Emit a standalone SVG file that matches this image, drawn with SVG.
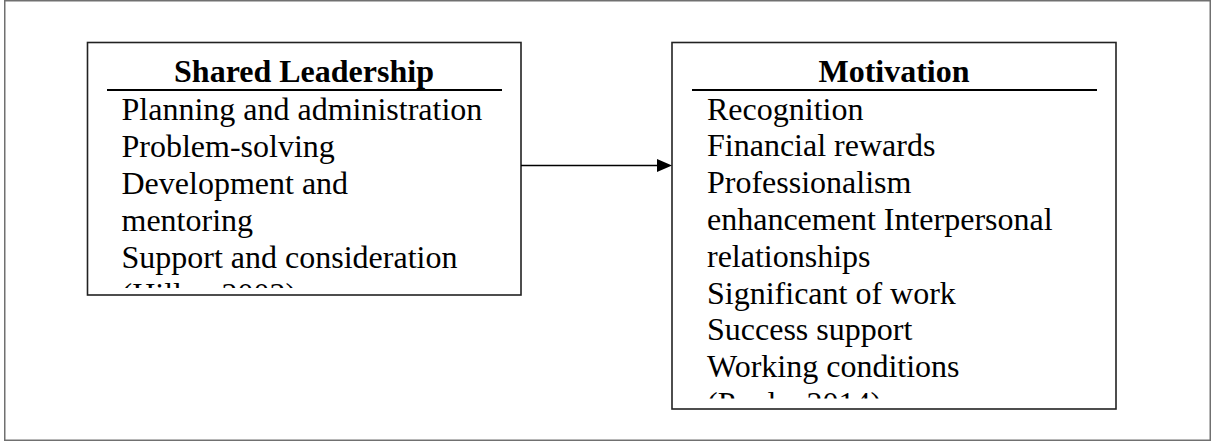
<svg xmlns="http://www.w3.org/2000/svg" width="1212" height="441" viewBox="0 0 1212 441">
  <style>
    .frame { fill: #ffffff; stroke: #707070; stroke-width: 1.5; }
    .box { fill: #ffffff; stroke: #222222; stroke-width: 1.6; }
    .rule { stroke: #000000; stroke-width: 2; }
    .title { font-family: "Liberation Serif", "Times New Roman", serif; font-weight: bold; font-size: 32px; fill: #000000; text-anchor: middle; }
    .item { font-family: "Liberation Serif", "Times New Roman", serif; font-size: 32px; fill: #000000; }
    .link { stroke: #000000; stroke-width: 1.5; fill: none; }
  </style>
  <defs>
    <clipPath id="clip-leader"><rect x="88" y="43" width="432" height="245"/></clipPath>
    <clipPath id="clip-motiv"><rect x="673" y="43" width="442" height="355.5"/></clipPath>
  </defs>

  <rect class="frame" x="4.75" y="0.75" width="1205.5" height="439.5"/>

  <g id="shared-leadership">
    <rect class="box" x="87.5" y="42.5" width="433.5" height="252.5"/>
    <text class="title" x="304" y="82">Shared Leadership</text>
    <line class="rule" x1="107" y1="90" x2="502" y2="90"/>
    <g clip-path="url(#clip-leader)">
      <text class="item" x="121.5" y="119.5">Planning and administration</text>
      <text class="item" x="121.5" y="156.5">Problem-solving</text>
      <text class="item" x="121.5" y="193.5">Development and</text>
      <text class="item" x="121.5" y="230.5">mentoring</text>
      <text class="item" x="121.5" y="267.5">Support and consideration</text>
      <text class="item" x="121.5" y="304.5">(Hiller, 2002)</text>
    </g>
  </g>

  <g id="motivation">
    <rect class="box" x="672" y="42.5" width="444" height="366.5"/>
    <text class="title" x="894" y="82">Motivation</text>
    <line class="rule" x1="692" y1="90" x2="1097" y2="90"/>
    <g clip-path="url(#clip-motiv)">
      <text class="item" x="707" y="119.5">Recognition</text>
      <text class="item" x="707" y="156.3">Financial rewards</text>
      <text class="item" x="707" y="193.1">Professionalism</text>
      <text class="item" x="707" y="229.9">enhancement Interpersonal</text>
      <text class="item" x="707" y="266.7">relationships</text>
      <text class="item" x="707" y="303.5">Significant of work</text>
      <text class="item" x="707" y="340.3">Success support</text>
      <text class="item" x="707" y="377.1">Working conditions</text>
      <text class="item" x="707" y="413.9">(Poole, 2014)</text>
    </g>
  </g>

  <g id="connectors">
    <line class="link" x1="521" y1="165.5" x2="658" y2="165.5"/>
    <polygon points="657,159 672,165.5 657,172" fill="#000000"/>
  </g>
</svg>
